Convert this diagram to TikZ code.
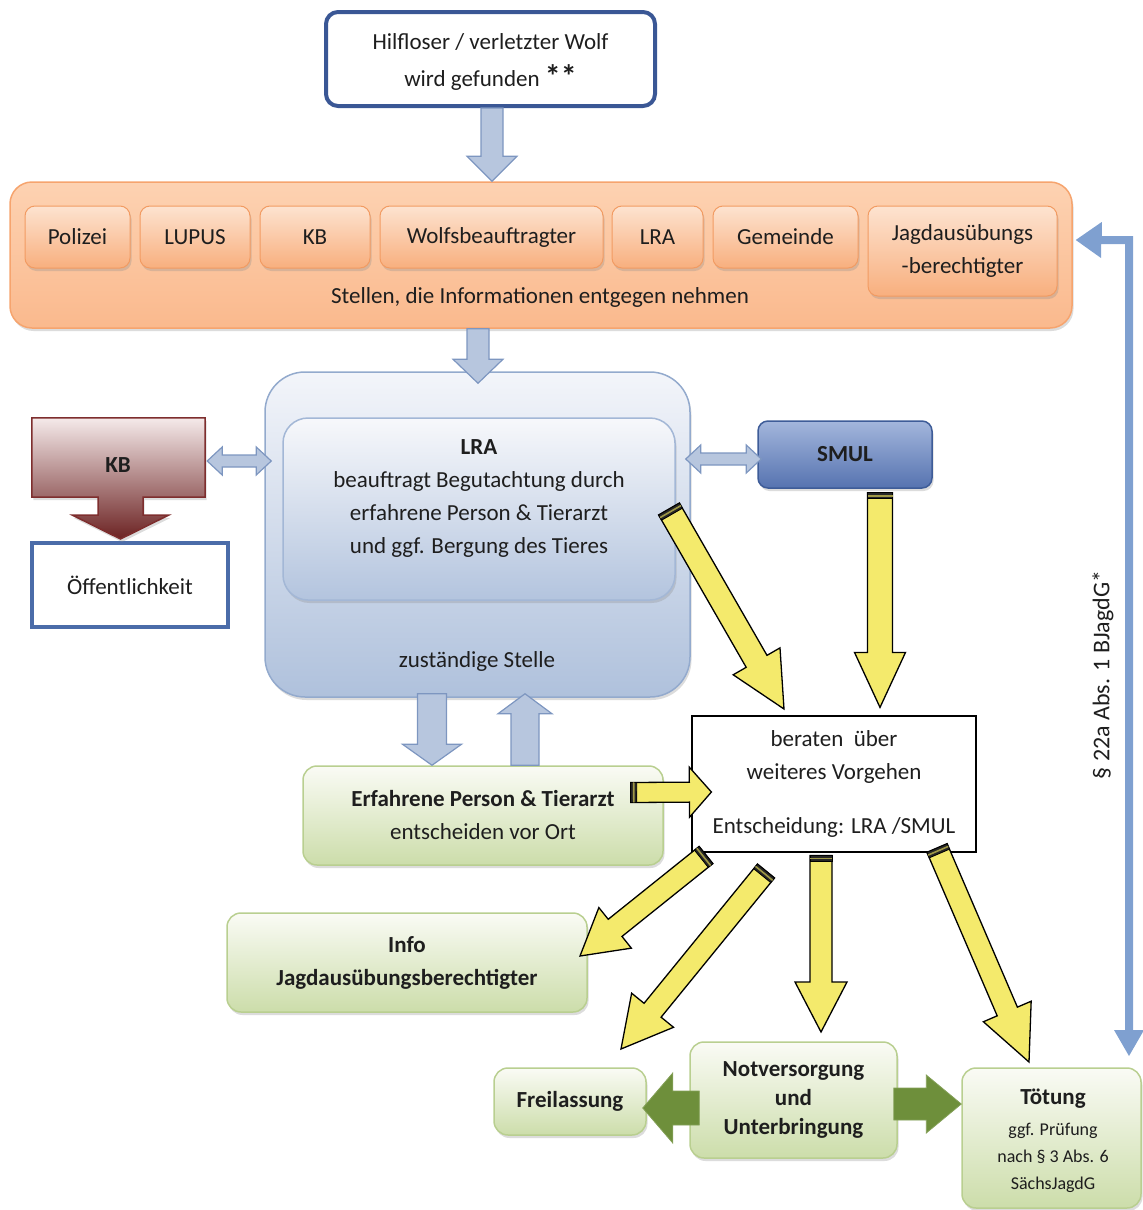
\documentclass[tikz,border=0pt]{standalone}
\usepackage{fontspec}
\setmainfont{Carlito}
\usetikzlibrary{calc,shadows}
\definecolor{txt}{HTML}{1E1E1E}
\definecolor{topblue}{HTML}{3A5795}
\definecolor{barfill}{HTML}{B7C6DE}
\definecolor{barbord}{HTML}{7D96C0}
\definecolor{or1}{HTML}{FDD2B2}
\definecolor{or2}{HTML}{FAB98D}
\definecolor{orbord}{HTML}{F6A46E}
\definecolor{oi1}{HTML}{FDE3D0}
\definecolor{oi2}{HTML}{F8AF7E}
\definecolor{oibord}{HTML}{F29B62}
\definecolor{zu1}{HTML}{F3F5FA}
\definecolor{zu2}{HTML}{AFC1DC}
\definecolor{zubord}{HTML}{93AACD}
\definecolor{lr1}{HTML}{F7F8FB}
\definecolor{lr2}{HTML}{B3C4DE}
\definecolor{lrbord}{HTML}{A3B7D6}
\definecolor{sm1}{HTML}{A3B6DC}
\definecolor{sm2}{HTML}{5673B0}
\definecolor{smbord}{HTML}{3E5C98}
\definecolor{kb1}{HTML}{F5EAEA}
\definecolor{kbmid}{HTML}{C07A7A}
\definecolor{kb2}{HTML}{6C2323}
\definecolor{kbbord}{HTML}{7E2E2E}
\definecolor{oeffbord}{HTML}{4B6CA9}
\definecolor{gr1}{HTML}{FAFBF5}
\definecolor{gr2}{HTML}{CCDDAA}
\definecolor{grbord}{HTML}{B9CF90}
\definecolor{yel}{HTML}{F4EA6C}
\definecolor{garr}{HTML}{6E8F3B}
\definecolor{rblue}{HTML}{7FA0D0}

% block arrow: style, start, tip, shaft half width, head half width, head length
\newcommand\barrow[6]{%
  \coordinate (bA) at (#2);
  \coordinate (bB) at (#3);
  \coordinate (bL) at ($(bB)!#6!(bA)$);
  \path[#1] ($(bA)!#4!90:(bB)$) -- ($(bL)!#4!90:(bB)$) -- ($(bL)!#5!90:(bB)$)
    -- (bB) -- ($(bL)!#5!-90:(bB)$) -- ($(bL)!#4!-90:(bB)$)
    -- ($(bA)!#4!-90:(bB)$) -- cycle;
}
% yellow arrow with dark tail band
\newcommand\yarrow[5]{%
  \barrow{yarrowsty}{#1}{#2}{#3}{#4}{#5}%
  \coordinate (bT) at ($(bA)!6pt!(bB)$);
  \coordinate (bM1) at ($(bA)!2.2pt!(bB)$);
  \coordinate (bM2) at ($(bA)!3.8pt!(bB)$);
  \path[fill=black!85, draw=black, line width=0.8pt] ($(bA)!#3!90:(bB)$) -- ($(bT)!#3!90:(bB)$) -- ($(bT)!#3!-90:(bB)$) -- ($(bA)!#3!-90:(bB)$) -- cycle;
  \path[fill=black!35!yel] ($(bM1)!#3!90:(bB)$) -- ($(bM2)!#3!90:(bB)$) -- ($(bM2)!#3!-90:(bB)$) -- ($(bM1)!#3!-90:(bB)$) -- cycle;
}
% double block arrow
\newcommand\dbarrow[6]{%
  \coordinate (bA) at (#2);
  \coordinate (bB) at (#3);
  \coordinate (bLa) at ($(bA)!#6!(bB)$);
  \coordinate (bLb) at ($(bB)!#6!(bA)$);
  \path[#1] (bA) -- ($(bLa)!#5!90:(bB)$) -- ($(bLa)!#4!90:(bB)$) -- ($(bLb)!#4!90:(bB)$)
    -- ($(bLb)!#5!90:(bB)$) -- (bB) -- ($(bLb)!#5!-90:(bB)$) -- ($(bLb)!#4!-90:(bB)$)
    -- ($(bLa)!#4!-90:(bB)$) -- ($(bLa)!#5!-90:(bB)$) -- cycle;
}

\begin{document}
\begin{tikzpicture}[x=1pt,y=-1pt,
  every node/.style={font=\fontsize{23}{33}\selectfont, text=txt, align=center, inner sep=0pt},
  myshadow/.style={drop shadow={shadow xshift=1.5pt, shadow yshift=-3pt, opacity=0.3, fill=black!45}},
  topbox/.style={draw=topblue, line width=4pt, fill=white, rounded corners=12pt},
  orangeouter/.style={draw=orbord, line width=1.5pt, top color=or1, bottom color=or2, rounded corners=22pt, myshadow},
  orangeinner/.style={draw=oibord, line width=1pt, top color=oi1, bottom color=oi2, rounded corners=10pt, myshadow},
  bluebig/.style={draw=zubord, line width=1.5pt, top color=zu1, bottom color=zu2, rounded corners=40pt, myshadow},
  blueinner/.style={draw=lrbord, line width=1.5pt, top color=lr1, bottom color=lr2, rounded corners=25pt, myshadow},
  smulbox/.style={draw=smbord, line width=1.5pt, top color=sm1, bottom color=sm2, rounded corners=10pt, myshadow},
  kbshape/.style={draw=kbbord, line width=1.5pt, top color=kb1, middle color=kbmid, bottom color=kb2, myshadow},
  oeffbox/.style={draw=oeffbord, line width=4pt, fill=white},
  whitebox/.style={draw=black, line width=1.2pt, fill=white},
  greenbox/.style={draw=grbord, line width=1.5pt, top color=gr1, bottom color=gr2, rounded corners=14pt, myshadow},
  bluearrow/.style={fill=barfill, draw=barbord, line width=1.2pt},
  yarrowsty/.style={fill=yel, draw=black, line width=1.3pt},
  greenarrow/.style={fill=garr, draw=garr!85!white, line width=0.8pt},
]
\useasboundingbox (0,0) rectangle (1143,1210);

% ---------- boxes ----------
\node[topbox, minimum width=329pt, minimum height=94pt] (top) at (490.5,59) {};
\node (toptext) at (490.5,62)
  {Hilfloser / verletzter Wolf\\[4pt]wird gefunden \raisebox{-1pt}{\bfseries\fontsize{32}{32}\selectfont **}};

\node[orangeouter, minimum width=1062pt, minimum height=146pt] (orange) at (541,255) {};
\node (stellen) at (540,297) {Stellen, die Informationen entgegen nehmen};
\node[orangeinner, minimum width=105pt, minimum height=62pt] (polizei) at (77.5,237) {Polizei};
\node[orangeinner, minimum width=110pt, minimum height=62pt] (lupus) at (195,237) {LUPUS};
\node[orangeinner, minimum width=110pt, minimum height=62pt] (kbo) at (315,237) {KB};
\node[orangeinner, minimum width=223pt, minimum height=62pt] (wolfsb) at (491.5,237) {Wolfsbeauftragter};
\node[orangeinner, minimum width=91pt, minimum height=62pt] (lrao) at (657.5,237) {LRA};
\node[orangeinner, minimum width=145pt, minimum height=62pt] (gemeinde) at (785.5,237) {Gemeinde};
\node[orangeinner, minimum width=189pt, minimum height=90pt] (jagd) at (962.5,251) {Jagdausübungs\\-berechtigter};

\node[bluebig, minimum width=425pt, minimum height=325pt] (zust) at (477.5,534.5) {};
\node[blueinner, minimum width=392pt, minimum height=182pt] (lra) at (479,509) {};
\node (lratext) at (479,499) {\textbf{LRA}\\beauftragt Begutachtung durch\\erfahrene Person \& Tierarzt\\und ggf. Bergung des Tieres};
\node (zusttext) at (477,661) {zuständige Stelle};

% KB box with its down arrow as one shape
\node[minimum width=173pt, minimum height=79pt] (kb) at (118.5,457.5) {};
\node[oeffbox, minimum width=196pt, minimum height=84pt] (oeff) at (130,585) {Öffentlichkeit};
\coordinate (kbc) at ($(kb.south)+(2,0)$);
\coordinate (kbt) at ($(kbc |- oeff.north)+(0,-2)$);
\path[kbshape] (kb.north west) -- (kb.north east) -- (kb.south east)
  -- ($(kbc)+(22.5,0)$) -- ($(kbc)+(22.5,18)$) -- ($(kbc)+(48,18)$) -- (kbt)
  -- ($(kbc)+(-48,18)$) -- ($(kbc)+(-22.5,18)$) -- ($(kbc)+(-22.5,0)$)
  -- (kb.south west) -- cycle;
\node (kbtext) at (118,465) {\textbf{KB}};

\node[smulbox, minimum width=174pt, minimum height=67pt] (smul) at (845,454.5) {\textbf{SMUL}};

\node[whitebox, minimum width=284pt, minimum height=136pt] (beraten) at (834,784)
  {beraten~~über\\weiteres Vorgehen\\[21pt]Entscheidung: LRA /SMUL};

\node[greenbox, minimum width=360pt, minimum height=99pt] (erf) at (483,815.5)
  {\textbf{Erfahrene Person \& Tierarzt}\\entscheiden vor Ort};
\node[greenbox, minimum width=360pt, minimum height=99pt] (info) at (407,962.5)
  {\textbf{Info}\\\textbf{Jagdausübungsberechtigter}};
\node[greenbox, minimum width=152pt, minimum height=67pt] (frei) at (570,1101.5) {\textbf{Freilassung}};
\node[greenbox, minimum width=207pt, minimum height=116pt, font=\fontsize{23}{29}\selectfont\bfseries] (notv) at (793.5,1100)
  {Notversorgung\\und\\Unterbringung};
\node[greenbox, minimum width=179pt, minimum height=140pt] (toet) at (1051.5,1138) {};
\node[font=\fontsize{18}{27}\selectfont] (toettext) at (1053,1141)
  {{\fontsize{23}{27}\selectfont\bfseries Tötung}\\[4pt]ggf. Prüfung\\nach § 3 Abs. 6\\SächsJagdG};

% ---------- blue arrows ----------
\coordinate (a1s) at ($(top.south)+(1.5,0)$);
\coordinate (a1t) at (a1s |- orange.north);
\barrow{bluearrow}{a1s}{a1t}{11pt}{25pt}{25pt}
\coordinate (a2s) at ($(orange.south)+(-63,0)$);
\coordinate (a2t) at ($(a2s |- zust.north)+(0,12)$);
\barrow{bluearrow}{a2s}{a2t}{11pt}{25pt}{24pt}
\coordinate (dn1) at ($(zust.south)+(-45.5,-4)$);
\coordinate (dn2) at (dn1 |- erf.north);
\barrow{bluearrow}{dn1}{dn2}{14.5pt}{29.5pt}{21pt}
\coordinate (up1) at ($(erf.north)+(42,0)$);
\coordinate (up2) at ($(zust.south)+(47.5,-4)$);
\barrow{bluearrow}{up1}{up2}{14pt}{27pt}{20pt}
\dbarrow{bluearrow}{$(kb.east)+(2,3.5)$}{$(zust.west)+(7,-73.5)$}{6pt}{14pt}{15pt}
\dbarrow{bluearrow}{$(zust.east)+(-5,-75.5)$}{$(smul.west)+(4,4.5)$}{6pt}{14pt}{15pt}

% ---------- yellow arrows ----------
\coordinate (y1a) at (669,509);
\coordinate (y1b) at (784,709);
\yarrow{y1a}{y1b}{12pt}{27pt}{55pt}
\coordinate (y2a) at ($(smul.south)+(35,4)$);
\coordinate (y2b) at ($(y2a |- beraten.north)+(0,-8)$);
\yarrow{y2a}{y2b}{12.5pt}{25.5pt}{55pt}
\coordinate (y3a) at ($(erf.east)+(-33,-23)$);
\coordinate (y3b) at ($(beraten.west)+(20,8)$);
\yarrow{y3a}{y3b}{10pt}{25pt}{22pt}
\coordinate (y4a) at (706,855);
\coordinate (y4b) at (580,956);
\yarrow{y4a}{y4b}{11pt}{26pt}{45pt}
\coordinate (y5a) at (766,871);
\coordinate (y5b) at (621,1049);
\yarrow{y5a}{y5b}{11pt}{27pt}{50pt}
\coordinate (y6a) at ($(beraten.south)+(-13,3)$);
\coordinate (y6b) at (y6a |- 0,1032);
\yarrow{y6a}{y6b}{11pt}{26pt}{50pt}
\coordinate (y7a) at (937,848);
\coordinate (y7b) at (1029,1062);
\yarrow{y7a}{y7b}{11pt}{26pt}{55pt}

% ---------- green arrows ----------
\barrow{greenarrow}{$(notv.west)+(10,8)$}{$(frei.east)+(-4,6.5)$}{17pt}{35pt}{30pt}
\barrow{greenarrow}{$(notv.east)+(-4,4)$}{$(toet.west)+(0,-34)$}{16pt}{29pt}{35pt}

% ---------- right connector ----------
\coordinate (rtip) at ($(orange.east)+(3,-15)$);
\coordinate (rend) at (1129,1056);
\fill[rblue] (rtip) -- ++(26,-18) -- ++(0,14) -- (1133,236) -- (1133,1030) -- (1144,1030)
  -- (rend) -- (1114,1030) -- (1125,1030) -- (1125,244) -- (1101,244) -- (1101,258) -- cycle;
\node[rotate=90, font=\fontsize{24}{30}\selectfont] (para) at (1103,675) {§ 22a Abs. 1 BJagdG*};

\end{tikzpicture}
\end{document}
